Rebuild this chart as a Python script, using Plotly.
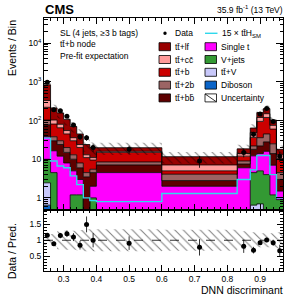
import numpy as np
import plotly.graph_objects as go

# ---------------- data ----------------
bin_edges = [0.24, 0.26, 0.28, 0.30, 0.32, 0.34, 0.36, 0.38, 0.40,
             0.60, 0.83, 0.87, 0.89, 0.91, 0.93, 0.95, 0.97]

diboson = [0.65, 0.15, 0.10, 0.10, 0.05, 0.05, 0.03, 0.05, 0.05, 0.03, 0.05, 0.15, 0.2, 0.15, 0.1, 0.05]
ttv     = [1.8, 0.35, 0.2, 0.2, 0.1, 0.1, 0.05, 0.1, 0.1, 0.1, 0.25, 0.5, 0.5, 0.35, 0.2, 0.1]
vjets   = [7.5, 4.0, 0.2, 0.2, 1.05, 1.05, 0.22, 0.85, 0.15, 0.17, 0.1, 3.85, 4.3, 3.5, 0.9, 0.75]
singlet = [28, 12, 11.5, 7.5, 3.8, 1.8, 0.2, 1.0, 4.2, 1.7, 5.6, 7.7, 9, 12, 5.8, 0.6]
ttbb    = [40, 13.5, 12, 7, 5, 3, 3.0, 2.5, 2.6, 0.8, 1.5, 5.8, 8, 12, 7, 1.5]
tt2b    = [25, 8, 6, 5, 3, 2, 1.0, 1.0, 1.4, 1.3, 1.5, 4, 14, 17, 11, 1.5]
ttb     = [117, 43, 35, 25, 17, 12, 6.5, 4.0, 6.5, 0.9, 3, 14.6, 59, 75, 35, 6]
ttcc    = [110, 22, 15, 10, 6, 4, 2, 1.5, 1.0, 2.1, 2, 12.4, 25, 30, 15, 2.5]
ttlf    = [506, 109, 77, 52, 34, 21, 11, 9, 3.8, 4.5, 4.5, 15, 40, 53, 28, 5]

tth_x15 = [35, 9, 6.7, 6.0, 3.7, 2.2, 1.0, 0.85, 0.8, 1.3, 3.0, 5.3, 12.5, 12.5, 4.0, 1.0]
data    = [970, 189, 180, 129, 77, 38, 36, 20, 18, 9, 15, 44, 148, 205, 95, 12]
rel_unc = [0.15, 0.2, 0.28, 0.3, 0.3, 0.32, 0.35, 0.35, 0.35, 0.33, 0.28, 0.25, 0.22, 0.22, 0.22, 0.25]

x_ticks = [0.3, 0.4, 0.5, 0.6, 0.7, 0.8, 0.9]
y_tickvals = [1, 10, 100, 1000, 10000]
y_ticktext = ["1", "10", "10<sup>2</sup>", "10<sup>3</sup>", "10<sup>4</sup>"]

# stack order (bottom -> top) with names and colours
layers = [
    ("Diboson", diboson, "#0a64c8"),
    ("tt\u0304+V", ttv, "#c8c8fa"),
    ("V+jets", vjets, "#339933"),
    ("Single t", singlet, "#ff00ff"),
    ("tt\u0304+bb\u0304", ttbb, "#5e0000"),
    ("tt\u0304+2b", tt2b, "#9c6464"),
    ("tt\u0304+b", ttb, "#cc0000"),
    ("tt\u0304+cc\u0304", ttcc, "#ff9a9a"),
    ("tt\u0304+lf", ttlf, "#990000"),
]

edges = np.array(bin_edges)
centers = 0.5 * (edges[:-1] + edges[1:])

def step_y(vals):
    v = list(vals)
    return v + [v[-1]]

fig = go.Figure()

# ---------------- top panel ----------------
baseline = np.full(len(centers), 0.01)
fig.add_trace(go.Scatter(x=edges, y=step_y(baseline), mode="lines", line=dict(width=0, shape="hv"),
                         showlegend=False, hoverinfo="skip", xaxis="x", yaxis="y"))
cum = np.zeros(len(centers))
for name, vals, col in layers:
    cum = cum + np.array(vals)
    fig.add_trace(go.Scatter(x=edges, y=step_y(cum), mode="lines",
                             line=dict(color="black", width=0.8, shape="hv"),
                             fill="tonexty", fillcolor=col, name=name, showlegend=False,
                             xaxis="x", yaxis="y"))
total = cum.copy()
unc = np.array(rel_unc)

hatch = dict(shape="\\", fgcolor="black", bgcolor="rgba(0,0,0,0)",
             size=6, solidity=0.17, fillmode="overlay")

# uncertainty band (hatched)
fig.add_trace(go.Scatter(x=edges, y=step_y(total * (1 - unc)), mode="lines",
                         line=dict(width=0, shape="hv"), showlegend=False, hoverinfo="skip",
                         xaxis="x", yaxis="y"))
fig.add_trace(go.Scatter(x=edges, y=step_y(total * (1 + unc)), mode="lines",
                         line=dict(width=0, shape="hv"), fill="tonexty",
                         fillcolor="rgba(0,0,0,0)", fillpattern=hatch,
                         showlegend=False, xaxis="x", yaxis="y"))

# signal line
fig.add_trace(go.Scatter(x=edges, y=step_y(tth_x15), mode="lines",
                         line=dict(color="#2fd8ec", width=1.4, shape="hv"),
                         showlegend=False, xaxis="x", yaxis="y"))

# data
data_arr = np.array(data, dtype=float)
fig.add_trace(go.Scatter(x=centers, y=data_arr, mode="markers",
                         marker=dict(color="black", size=5),
                         error_y=dict(type="data", array=np.sqrt(data_arr), color="black",
                                      thickness=0.8, width=0),
                         showlegend=False, xaxis="x", yaxis="y"))

# ---------------- ratio panel ----------------
fig.add_trace(go.Scatter(x=edges, y=step_y(1 - unc), mode="lines",
                         line=dict(width=0, shape="hv"), showlegend=False, hoverinfo="skip",
                         xaxis="x2", yaxis="y2"))
fig.add_trace(go.Scatter(x=edges, y=step_y(1 + unc), mode="lines",
                         line=dict(width=0, shape="hv"), fill="tonexty",
                         fillcolor="rgba(0,0,0,0)", fillpattern=hatch,
                         showlegend=False, xaxis="x2", yaxis="y2"))
ratio = data_arr / total
ratio_err = np.sqrt(data_arr) / total
fig.add_trace(go.Scatter(x=centers, y=ratio, mode="markers",
                         marker=dict(color="black", size=5),
                         error_y=dict(type="data", array=ratio_err, color="black",
                                      thickness=0.8, width=0),
                         showlegend=False, xaxis="x2", yaxis="y2"))

# ---------------- layout ----------------
W, H = 291, 300
ML, MR, MT, MB = 44, 8, 18, 29
split = 61.5 / (H - MT - MB)

def px(xp):
    return (xp - ML) / (W - ML - MR)

def py(yp):
    return (H - MB - yp) / (H - MT - MB)

axis_common = dict(showline=True, linecolor="black", linewidth=1, mirror="allticks",
                   ticks="inside", tickcolor="black", zeroline=False, showgrid=False)

fig.update_layout(
    width=W, height=H, margin=dict(l=ML, r=MR, t=MT, b=MB),
    paper_bgcolor="white", plot_bgcolor="white",
    font=dict(family="Liberation Sans, Arial, sans-serif", size=9, color="black"),
    showlegend=False,
    xaxis=dict(domain=[0, 1], anchor="y", range=[bin_edges[0], bin_edges[-1]],
               tickvals=x_ticks, showticklabels=False, ticklen=6,
               minor=dict(ticks="inside", dtick=0.02, tick0=0, ticklen=3, tickcolor="black"),
               matches="x2", **axis_common),
    yaxis=dict(domain=[split, 1], anchor="x", type="log", range=[-0.3, 4.65],
               tickvals=y_tickvals, ticktext=y_ticktext, ticklen=7,
               tickfont=dict(size=8.5),
               minor=dict(ticks="inside", dtick="D1", ticklen=3.5, tickcolor="black"),
               **axis_common),
    xaxis2=dict(domain=[0, 1], anchor="y2", range=[bin_edges[0], bin_edges[-1]],
                tickvals=x_ticks, ticktext=[f"{v:.1f}" for v in x_ticks], ticklen=6,
                tickfont=dict(size=8.5),
                minor=dict(ticks="inside", dtick=0.02, tick0=0, ticklen=3, tickcolor="black"),
                **axis_common),
    yaxis2=dict(domain=[0, split], anchor="x2", range=[0.03, 1.97],
                tickvals=[0.5, 1.0, 1.5], ticktext=["0.5", "1", "1.5"], ticklen=6,
                tickfont=dict(size=8.5),
                minor=dict(ticks="inside", dtick=0.1, tick0=0, ticklen=3, tickcolor="black"),
                **axis_common),
)

shapes = []
ann = []
# dashed line at 1 in ratio
shapes.append(dict(type="line", xref="x2 domain", yref="y2", x0=0, x1=1, y0=1, y1=1,
                   line=dict(color="black", width=0.8, dash="dash")))

# ---------- manual legend ----------
row_y = [46.7, 59.5, 72.3, 85.1, 97.9]
left = [layers[8], layers[7], layers[6], layers[5], layers[4]]
right = [layers[3], layers[2], layers[1], layers[0]]
lx0, lx1, ltx = 159, 170.5, 173
rx0, rx1, rtx = 205, 216.5, 219
fs = 8.5
for (name, _, col), yy in zip(left, row_y):
    shapes.append(dict(type="rect", xref="paper", yref="paper", x0=px(lx0), x1=px(lx1),
                       y0=py(yy + 4), y1=py(yy - 4), fillcolor=col,
                       line=dict(color="black", width=0.8)))
    ann.append(dict(x=px(ltx), y=py(yy), xref="paper", yref="paper", text=name, showarrow=False,
                    xanchor="left", yanchor="middle", font=dict(size=fs)))
for (name, _, col), yy in zip(right, row_y[:4]):
    shapes.append(dict(type="rect", xref="paper", yref="paper", x0=px(rx0), x1=px(rx1),
                       y0=py(yy + 4), y1=py(yy - 4), fillcolor=col,
                       line=dict(color="black", width=0.8)))
    ann.append(dict(x=px(rtx), y=py(yy), xref="paper", yref="paper", text=name,
                    showarrow=False, xanchor="left", yanchor="middle", font=dict(size=fs)))
# uncertainty swatch
yy = row_y[4]
shapes.append(dict(type="rect", xref="paper", yref="paper", x0=px(rx0), x1=px(rx1),
                   y0=py(yy + 4), y1=py(yy - 4), fillcolor="white",
                   line=dict(color="black", width=0.8)))
shapes.append(dict(type="line", xref="paper", yref="paper", x0=px(rx0), x1=px(rx1),
                   y0=py(yy - 4), y1=py(yy + 4), line=dict(color="black", width=0.8)))
ann.append(dict(x=px(rtx), y=py(yy), xref="paper", yref="paper", text="Uncertainty",
                showarrow=False, xanchor="left", yanchor="middle", font=dict(size=fs)))
# data entry
shapes.append(dict(type="circle", xref="paper", yref="paper", x0=px(163.3), x1=px(166.7),
                   y0=py(35), y1=py(31.6), fillcolor="black", line=dict(color="black", width=0)))
ann.append(dict(x=px(ltx), y=py(33.3), xref="paper", yref="paper", text="Data",
                showarrow=False, xanchor="left", yanchor="middle", font=dict(size=fs)))
shapes.append(dict(type="line", xref="paper", yref="paper", x0=px(rx0), x1=px(rx1 + 1),
                   y0=py(33.3), y1=py(33.3), line=dict(color="#2fd8ec", width=1.4)))
ann.append(dict(x=px(rtx + 1), y=py(33.3), xref="paper", yref="paper",
                text="15 \u00d7 tt\u0304H<sub>SM</sub>", showarrow=False,
                xanchor="left", yanchor="middle", font=dict(size=fs)))

# category text
for txt, yy in [("SL (4 jets, \u22653 b tags)", 33.3), ("tt\u0304+b node", 44.5),
                ("Pre-fit expectation", 55.7)]:
    ann.append(dict(x=px(58), y=py(yy), xref="paper", yref="paper", text=txt, showarrow=False,
                    xanchor="left", yanchor="middle", font=dict(size=fs)))

# header texts
ann.append(dict(x=px(43), y=py(10), xref="paper", yref="paper", text="<b>CMS</b>",
                showarrow=False, xanchor="left", yanchor="middle", font=dict(size=13)))
ann.append(dict(x=px(285), y=py(10), xref="paper", yref="paper",
                text="35.9 fb<sup>-1</sup> (13 TeV)", showarrow=False,
                xanchor="right", yanchor="middle", font=dict(size=8.5)))
# axis titles
ann.append(dict(x=px(12), y=py(18), xref="paper", yref="paper", text="Events / Bin",
                textangle=-90, showarrow=False, xanchor="center", yanchor="top",
                font=dict(size=10.5)))
ann.append(dict(x=px(12), y=py(251), xref="paper", yref="paper", text="Data / Pred.",
                textangle=-90, showarrow=False, xanchor="center", yanchor="middle",
                font=dict(size=10.5)))
ann.append(dict(x=px(285), y=py(290), xref="paper", yref="paper", text="DNN discriminant",
                showarrow=False, xanchor="right", yanchor="middle", font=dict(size=10.5)))

fig.update_layout(shapes=shapes, annotations=ann)
fig.write_html("out.html", config={"displayModeBar": False},
               post_script="document.body.style.margin='0';")
